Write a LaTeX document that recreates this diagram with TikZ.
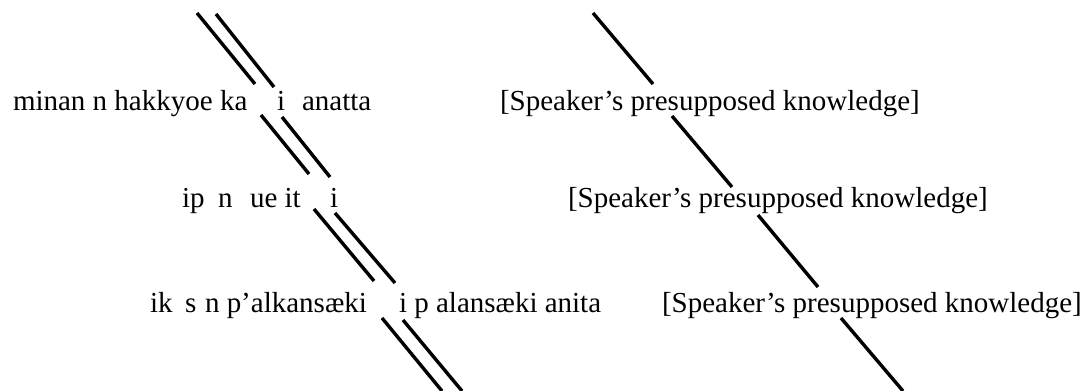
\documentclass[tikz,border=0pt]{standalone}
\usepackage{fontspec}
\setmainfont{Liberation Serif}
\begin{document}
\begin{tikzpicture}[x=0.5pt,y=-0.5pt,
  txt/.style={anchor=base west,inner sep=0pt,outer sep=0pt,font=\fontsize{14.5}{17}\selectfont},
  bar/.style={line width=1.7pt,line cap=butt}]
\useasboundingbox (0,0) rectangle (1089,391);
% row 1
\node[txt] (r1a) at (13,111) {minan n hakkyoe ka};
\node[txt] (r1b) at (277,111) {i};
\node[txt] (r1c) at (302,111) {anatta};
\node[txt] (r1s) at (500,111) {[Speaker’s presupposed knowledge]};
% row 2
\node[txt] (r2a) at (182,207) {ip};
\node[txt] (r2b) at (218,207) {n};
\node[txt] (r2c) at (250,207) {ue it};
\node[txt] (r2d) at (330,207) {i};
\node[txt] (r2s) at (568,207) {[Speaker’s presupposed knowledge]};
% row 3
\node[txt] (r3a) at (150,312) {ik};
\node[txt] (r3b) at (185,312) {s};
\node[txt] (r3c) at (205,312) {n p’alkansæki};
\node[txt] (r3e) at (399,312) {i p alansæki anita};
\node[txt] (r3s) at (662,312) {[Speaker’s presupposed knowledge]};
% double line segments
\coordinate (a1s) at (197,13);  \coordinate (a1e) at (255,84);
\coordinate (b1s) at (216,14);  \coordinate (b1e) at (274,87);
\coordinate (a2s) at (261,115); \coordinate (a2e) at (309,174);
\coordinate (b2s) at (282,117); \coordinate (b2e) at (330,177);
\coordinate (a3s) at (314,209); \coordinate (a3e) at (374,281);
\coordinate (b3s) at (335,213); \coordinate (b3e) at (395,283);
\coordinate (a4s) at (382,318); \coordinate (a4e) at (442,391);
\coordinate (b4s) at (403,320); \coordinate (b4e) at (462,391);
\foreach \s in {1,2,3,4}{
  \draw[bar] (a\s s) -- (a\s e);
  \draw[bar] (b\s s) -- (b\s e);
}
% single line segments
\coordinate (s1s) at (593,13);  \coordinate (s1e) at (653,84);
\coordinate (s2s) at (672,116); \coordinate (s2e) at (732,187);
\coordinate (s3s) at (758,215); \coordinate (s3e) at (818,287);
\coordinate (s4s) at (841,318); \coordinate (s4e) at (903,391);
\foreach \s in {1,2,3,4}{
  \draw[bar] (s\s s) -- (s\s e);
}
\end{tikzpicture}
\end{document}
